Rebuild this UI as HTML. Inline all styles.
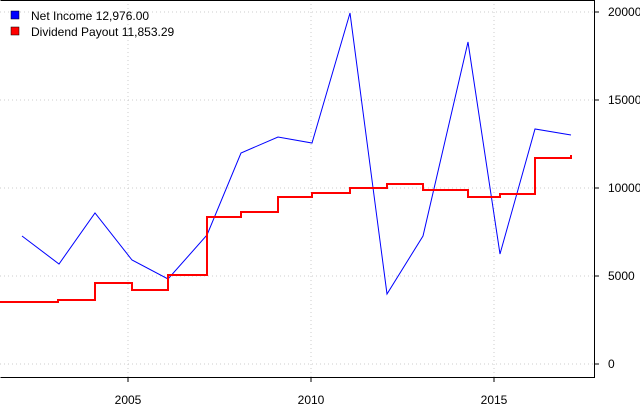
<!DOCTYPE html>
<html><head><style>body{margin:0;background:#fff}svg{display:block;font-family:"Liberation Sans",sans-serif}</style></head><body>
<svg width="640" height="408" viewBox="0 0 640 408">
<rect width="640" height="408" fill="#fff"/>
<g stroke="#ccc" stroke-dasharray="1,3" stroke-width="1">
<line x1="0" y1="12" x2="594" y2="12"/><line x1="0" y1="100" x2="594" y2="100"/><line x1="0" y1="188" x2="594" y2="188"/><line x1="0" y1="276" x2="594" y2="276"/><line x1="0" y1="364" x2="594" y2="364"/>
<line x1="128" y1="0" x2="128" y2="377"/><line x1="311" y1="0" x2="311" y2="377"/><line x1="494" y1="0" x2="494" y2="377"/>
</g>
<polyline fill="none" stroke="#0000ff" stroke-width="1" points="22,236 59,264 95,213 132,260 168,279 207,235 241,153 278,137 312,143 350,13 387,294 423,236 468,42 500,254 535,129 571,135"/>
<path fill="none" stroke="#ff0000" stroke-width="2" d="M0,302 H58 V300 H95 V283 H132 V290 H168 V275 H207 V217 H241 V212 H278 V197 H312 V193 H350 V188 H387 V184 H423 V190 H468 V197 H500 V194 H535 V158 H571 V155"/>
<path fill="none" stroke="#000" stroke-width="1" d="M0.5,0.5 H594.5 V377.5 H0.5"/>
<g stroke="#000"><line x1="594" y1="12" x2="599" y2="12"/><line x1="594" y1="100" x2="599" y2="100"/><line x1="594" y1="188" x2="599" y2="188"/><line x1="594" y1="276" x2="599" y2="276"/><line x1="594" y1="364" x2="599" y2="364"/>
<line x1="128" y1="377" x2="128" y2="382"/><line x1="311" y1="377" x2="311" y2="382"/><line x1="494" y1="377" x2="494" y2="382"/></g>
<g font-size="12" fill="#000"><text x="608" y="16">20000</text><text x="608" y="104">15000</text><text x="608" y="192">10000</text><text x="608" y="280">5000</text><text x="608" y="368">0</text>
<text x="128" y="404" text-anchor="middle">2005</text><text x="311" y="404" text-anchor="middle">2010</text><text x="494" y="404" text-anchor="middle">2015</text>
<text x="31" y="20">Net Income 12,976.00</text><text x="31" y="36">Dividend Payout 11,853.29</text></g>
<rect x="11" y="11" width="8" height="8" fill="#0000ff" stroke="#000" stroke-width="0.5"/>
<rect x="11" y="27" width="8" height="8" fill="#ff0000" stroke="#000" stroke-width="0.5"/>
</svg></body></html>
